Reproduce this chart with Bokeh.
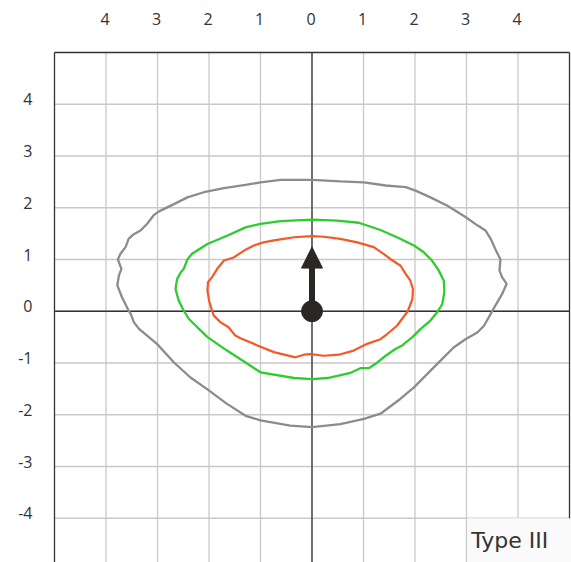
from bokeh.plotting import figure
from bokeh.models import Range1d, Arrow, NormalHead
from bokeh.core.properties import value
from bokeh.embed import file_html
from bokeh.resources import INLINE

# ---- data -------------------------------------------------------------
x_ticks = [-4, -3, -2, -1, 0, 1, 2, 3, 4]
y_ticks = [-4, -3, -2, -1, 0, 1, 2, 3, 4]
x_tick_labels = ["4", "3", "2", "1", "0", "1", "2", "3", "4"]
y_tick_labels = ["-4", "-3", "-2", "-1", "0", "1", "2", "3", "4"]
frame_lo, frame_hi = -5, 5

grey_x = [-3.56, -3.69, -3.78, -3.75, -3.70, -3.77, -3.72, -3.62, -3.56, -3.46, -3.33, -3.20,
          -3.07, -2.97, -2.68, -2.42, -2.10, -1.71, -1.29, -1.00, -0.61, 0.00, 0.55, 1.01,
          1.43, 1.82, 2.01, 2.30, 2.63, 2.98, 3.21, 3.37, 3.47, 3.56, 3.66, 3.64, 3.69, 3.78,
          3.69, 3.56, 3.47, 3.34, 3.21, 2.98, 2.75, 2.50, 2.24, 1.98, 1.72, 1.33, 1.01, 0.55,
          0.00, -0.42, -1.00, -1.29, -1.65, -2.03, -2.36, -2.68, -3.01, -3.36, -3.46, -3.52, -3.56]
grey_y = [0.01, 0.27, 0.50, 0.69, 0.82, 1.00, 1.11, 1.24, 1.40, 1.49, 1.56, 1.69,
          1.86, 1.93, 2.07, 2.20, 2.30, 2.38, 2.44, 2.49, 2.54, 2.54, 2.51, 2.49,
          2.43, 2.40, 2.33, 2.20, 2.04, 1.82, 1.66, 1.56, 1.40, 1.20, 1.00, 0.79, 0.66, 0.53,
          0.33, 0.11, -0.05, -0.28, -0.41, -0.54, -0.70, -0.95, -1.21, -1.47, -1.69, -1.98, -2.08, -2.18,
          -2.24, -2.21, -2.11, -2.02, -1.79, -1.51, -1.28, -0.99, -0.63, -0.34, -0.21, -0.05, 0.01]

green_x = [-2.49, -2.59, -2.65, -2.62, -2.55, -2.49, -2.42, -2.33, -2.03, -1.65, -1.29, -1.00,
           -0.61, 0.00, 0.49, 0.91, 1.33, 1.65, 1.98, 2.17, 2.33, 2.46, 2.56, 2.57, 2.53, 2.43,
           2.30, 2.11, 1.95, 1.75, 1.62, 1.43, 1.27, 1.10, 0.94, 0.75, 0.30, 0.00, -0.35, -1.00,
           -1.29, -1.65, -2.03, -2.39, -2.49]
green_y = [0.01, 0.21, 0.43, 0.62, 0.75, 0.82, 1.00, 1.11, 1.30, 1.46, 1.62, 1.69,
           1.74, 1.77, 1.75, 1.71, 1.57, 1.43, 1.27, 1.14, 0.98, 0.79, 0.59, 0.37, 0.14, -0.02,
           -0.18, -0.34, -0.50, -0.66, -0.73, -0.86, -0.99, -1.10, -1.10, -1.19, -1.29, -1.31, -1.29, -1.18,
           -0.99, -0.76, -0.50, -0.15, 0.01]

orange_x = [-1.94, -2.00, -2.03, -2.02, -1.94, -1.84, -1.71, -1.52, -1.29, -1.13, -0.94, -0.74,
            -0.55, -0.35, 0.00, 0.23, 0.55, 0.88, 1.20, 1.43, 1.52, 1.72, 1.80, 1.91, 1.96, 1.95,
            1.86, 1.65, 1.46, 1.33, 1.07, 0.81, 0.52, 0.23, -0.03, -0.16, -0.32, -0.74, -1.06,
            -1.39, -1.49, -1.62, -1.78, -1.91, -1.94]
orange_y = [0.01, 0.21, 0.40, 0.56, 0.66, 0.82, 0.98, 1.04, 1.19, 1.27, 1.33, 1.37,
            1.40, 1.43, 1.45, 1.44, 1.40, 1.33, 1.24, 1.08, 1.01, 0.88, 0.75, 0.59, 0.43, 0.24,
            0.00, -0.28, -0.44, -0.54, -0.63, -0.76, -0.84, -0.86, -0.83, -0.84, -0.89, -0.79, -0.66,
            -0.52, -0.47, -0.31, -0.21, -0.08, 0.01]

arrow_len = 1.24
label_text = "Type III"

# ---- figure -----------------------------------------------------------
W, H = 571, 562
x_unit, y_unit = 51.5, 51.75
left_px, top_px = 54, 52
x0 = frame_lo - left_px / x_unit
y1 = frame_hi + top_px / y_unit
x1 = x0 + W / x_unit
y0 = y1 - H / y_unit

p = figure(width=W, height=H, output_backend="svg", toolbar_location=None,
           x_range=Range1d(x0, x1), y_range=Range1d(y0, y1),
           x_axis_location=None, y_axis_location=None, min_border=0)
p.grid.visible = False
p.outline_line_color = None
p.background_fill_color = "white"
p.border_fill_color = "white"

grid_col = "#c9c9c9"
dark = "#333333"

# grid lines
p.segment(x0=x_ticks, x1=x_ticks, y0=[y0] * len(x_ticks), y1=[frame_hi] * len(x_ticks),
          line_color=grid_col, line_width=1.3)
p.segment(x0=[frame_lo] * len(y_ticks), x1=[frame_hi] * len(y_ticks), y0=y_ticks, y1=y_ticks,
          line_color=grid_col, line_width=1.3)

# frame
p.segment(x0=[frame_lo, frame_lo, frame_hi], x1=[frame_hi, frame_lo, frame_hi],
          y0=[frame_hi, y0, y0], y1=[frame_hi, frame_hi, frame_hi],
          line_color=dark, line_width=1.3)
# zero axes
p.segment(x0=[frame_lo, 0], x1=[frame_hi, 0], y0=[0, y0], y1=[0, frame_hi],
          line_color=dark, line_width=1.3)

# label box (bottom right)
p.quad(left=[x_ticks[-2] + 0.02], right=[x1], top=[y_ticks[0]], bottom=[y0],
       fill_color="#fafafa", line_color=None)
p.text(x=[x_ticks[-2] + 0.09], y=[(y_ticks[0] + y0) / 2], text=[label_text],
       text_font=value("DejaVu Sans"), text_font_size="22px", text_color="#333333",
       text_align="left", text_baseline="middle")

# curves
p.line(grey_x, grey_y, line_color="#8c8c8c", line_width=2.3)
p.line(green_x, green_y, line_color="#2fcc2f", line_width=2.3)
p.line(orange_x, orange_y, line_color="#f25a28", line_width=2.2)

# arrow and origin dot
arrow_col = "#2b2725"
p.add_layout(Arrow(end=NormalHead(size=21, fill_color=arrow_col, line_color=arrow_col, line_width=1),
                   x_start=0, y_start=0, x_end=0, y_end=arrow_len,
                   line_color=arrow_col, line_width=6))
p.scatter([0], [0], size=21, color=arrow_col)

# tick labels
p.text(x=x_ticks, y=[frame_hi + 34 / y_unit] * len(x_ticks), text=x_tick_labels,
       text_font=value("Open Sans"), text_font_size="16px", text_color="#333333",
       text_align="center", text_baseline="middle", x_offset=-1)
p.text(x=[frame_lo - 22 / x_unit] * len(y_ticks), y=y_ticks, text=y_tick_labels,
       text_font=value("Open Sans"), text_font_size="16px", text_color="#333333",
       text_align="right", text_baseline="middle", y_offset=-5)

open("out.html", "w").write(file_html(p, INLINE))
